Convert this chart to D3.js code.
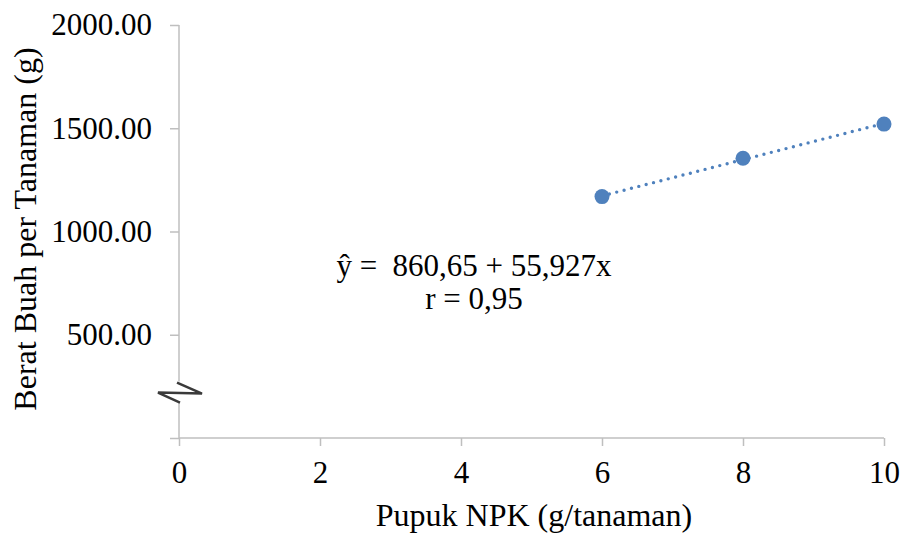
<!DOCTYPE html>
<html>
<head>
<meta charset="utf-8">
<script src="https://cdn.jsdelivr.net/npm/d3@7"></script>
<style>
  html, body { margin: 0; padding: 0; background: #fff; }
  svg { display: block; }
  text { font-family: 'Liberation Serif', 'Times New Roman', serif; fill: #000; }
</style>
</head>
<body>
<svg id="chart" width="904" height="535"></svg>
<script>
// ---- data ----
const npk = [6, 8, 10];                       // Pupuk NPK (g/tanaman)
const berat = [1169, 1355, 1520];             // Berat Buah per Tanaman (g)
const xTicks = [0, 2, 4, 6, 8, 10];
const yTicks = [0, 500, 1000, 1500, 2000];
const yTickLabels = ["", "500.00", "1000.00", "1500.00", "2000.00"];
const equationLines = ["ŷ =  860,65 + 55,927x", "r = 0,95"];
const xTitle = "Pupuk NPK (g/tanaman)";
const yTitle = "Berat Buah per Tanaman (g)";
const breakValue = 220;

// ---- layout ----
const svg = d3.select("#chart");
const x = d3.scaleLinear().domain([0, 10]).range([179, 884]);
const y = d3.scaleLinear().domain([0, 2000]).range([438, 25]);
const axisColor = "#BFBFBF";
const blue = "#4F81BD";

// y axis
const yAxis = svg.append("g")
  .attr("transform", `translate(${x(0)},0)`)
  .call(d3.axisLeft(y).tickValues(yTicks).tickSize(9).tickPadding(18)
        .tickFormat((d, i) => yTickLabels[i]).tickSizeOuter(0));
yAxis.select(".domain").remove();
yAxis.selectAll(".tick line").attr("stroke", axisColor).attr("stroke-width", 1.5);
yAxis.selectAll(".tick text").attr("font-size", 31).attr("font-family", "Liberation Serif").attr("fill", "#000");
svg.append("line").attr("x1", x(0)).attr("x2", x(0)).attr("y1", y(2000)).attr("y2", y(0))
  .attr("stroke", axisColor).attr("stroke-width", 1.5);

// x axis
const xAxis = svg.append("g")
  .attr("transform", `translate(0,${y(0)})`)
  .call(d3.axisBottom(x).tickValues(xTicks).tickSize(8).tickPadding(15)
        .tickFormat(d3.format("d")).tickSizeOuter(0));
xAxis.select(".domain").remove();
xAxis.selectAll(".tick line").attr("stroke", axisColor).attr("stroke-width", 1.5);
xAxis.selectAll(".tick text").attr("font-size", 31).attr("font-family", "Liberation Serif").attr("fill", "#000");
svg.append("line").attr("x1", x(0)).attr("x2", x(10)).attr("y1", y(0)).attr("y2", y(0))
  .attr("stroke", axisColor).attr("stroke-width", 1.5);

// axis break symbol
const by = y(breakValue), bx = x(0);
svg.append("rect").attr("x", bx - 22).attr("y", by - 11).attr("width", 40).attr("height", 21).attr("fill", "#fff");
svg.append("path")
  .attr("d", `M${bx - 2},${by - 10} L${bx + 23},${by + 1} L${bx - 21},${by} L${bx + 1},${by + 10}`)
  .attr("fill", "none").attr("stroke", "#3a3a3a").attr("stroke-width", 2.5).attr("stroke-linejoin", "miter");

// trendline (least squares)
const mx = d3.mean(npk), my = d3.mean(berat);
const slope = d3.sum(npk, (d, i) => (d - mx) * (berat[i] - my)) / d3.sum(npk, d => (d - mx) ** 2);
const icpt = my - slope * mx;
const x0 = d3.min(npk), x1 = d3.max(npk);
svg.append("line")
  .attr("x1", x(x0)).attr("y1", y(icpt + slope * x0))
  .attr("x2", x(x1)).attr("y2", y(icpt + slope * x1))
  .attr("stroke", blue).attr("stroke-width", 3.4)
  .attr("stroke-linecap", "round").attr("stroke-dasharray", "0 7.6");

// points
svg.selectAll("circle.pt").data(npk).enter().append("circle")
  .attr("class", "pt")
  .attr("cx", d => x(d)).attr("cy", (d, i) => y(berat[i]))
  .attr("r", 7.5).attr("fill", blue);

// equation
svg.selectAll("text.eq").data(equationLines).enter().append("text")
  .attr("class", "eq")
  .attr("x", 474).attr("y", (d, i) => 276 + i * 33)
  .attr("text-anchor", "middle").attr("font-size", 31)
  .style("white-space", "pre")
  .text(d => d);

// titles
svg.append("text").attr("x", 534).attr("y", 526).attr("text-anchor", "middle")
  .attr("font-size", 32).text(xTitle);
svg.append("text").attr("transform", "translate(36,229) rotate(-90)")
  .attr("text-anchor", "middle").attr("font-size", 32).text(yTitle);
</script>
</body>
</html>
